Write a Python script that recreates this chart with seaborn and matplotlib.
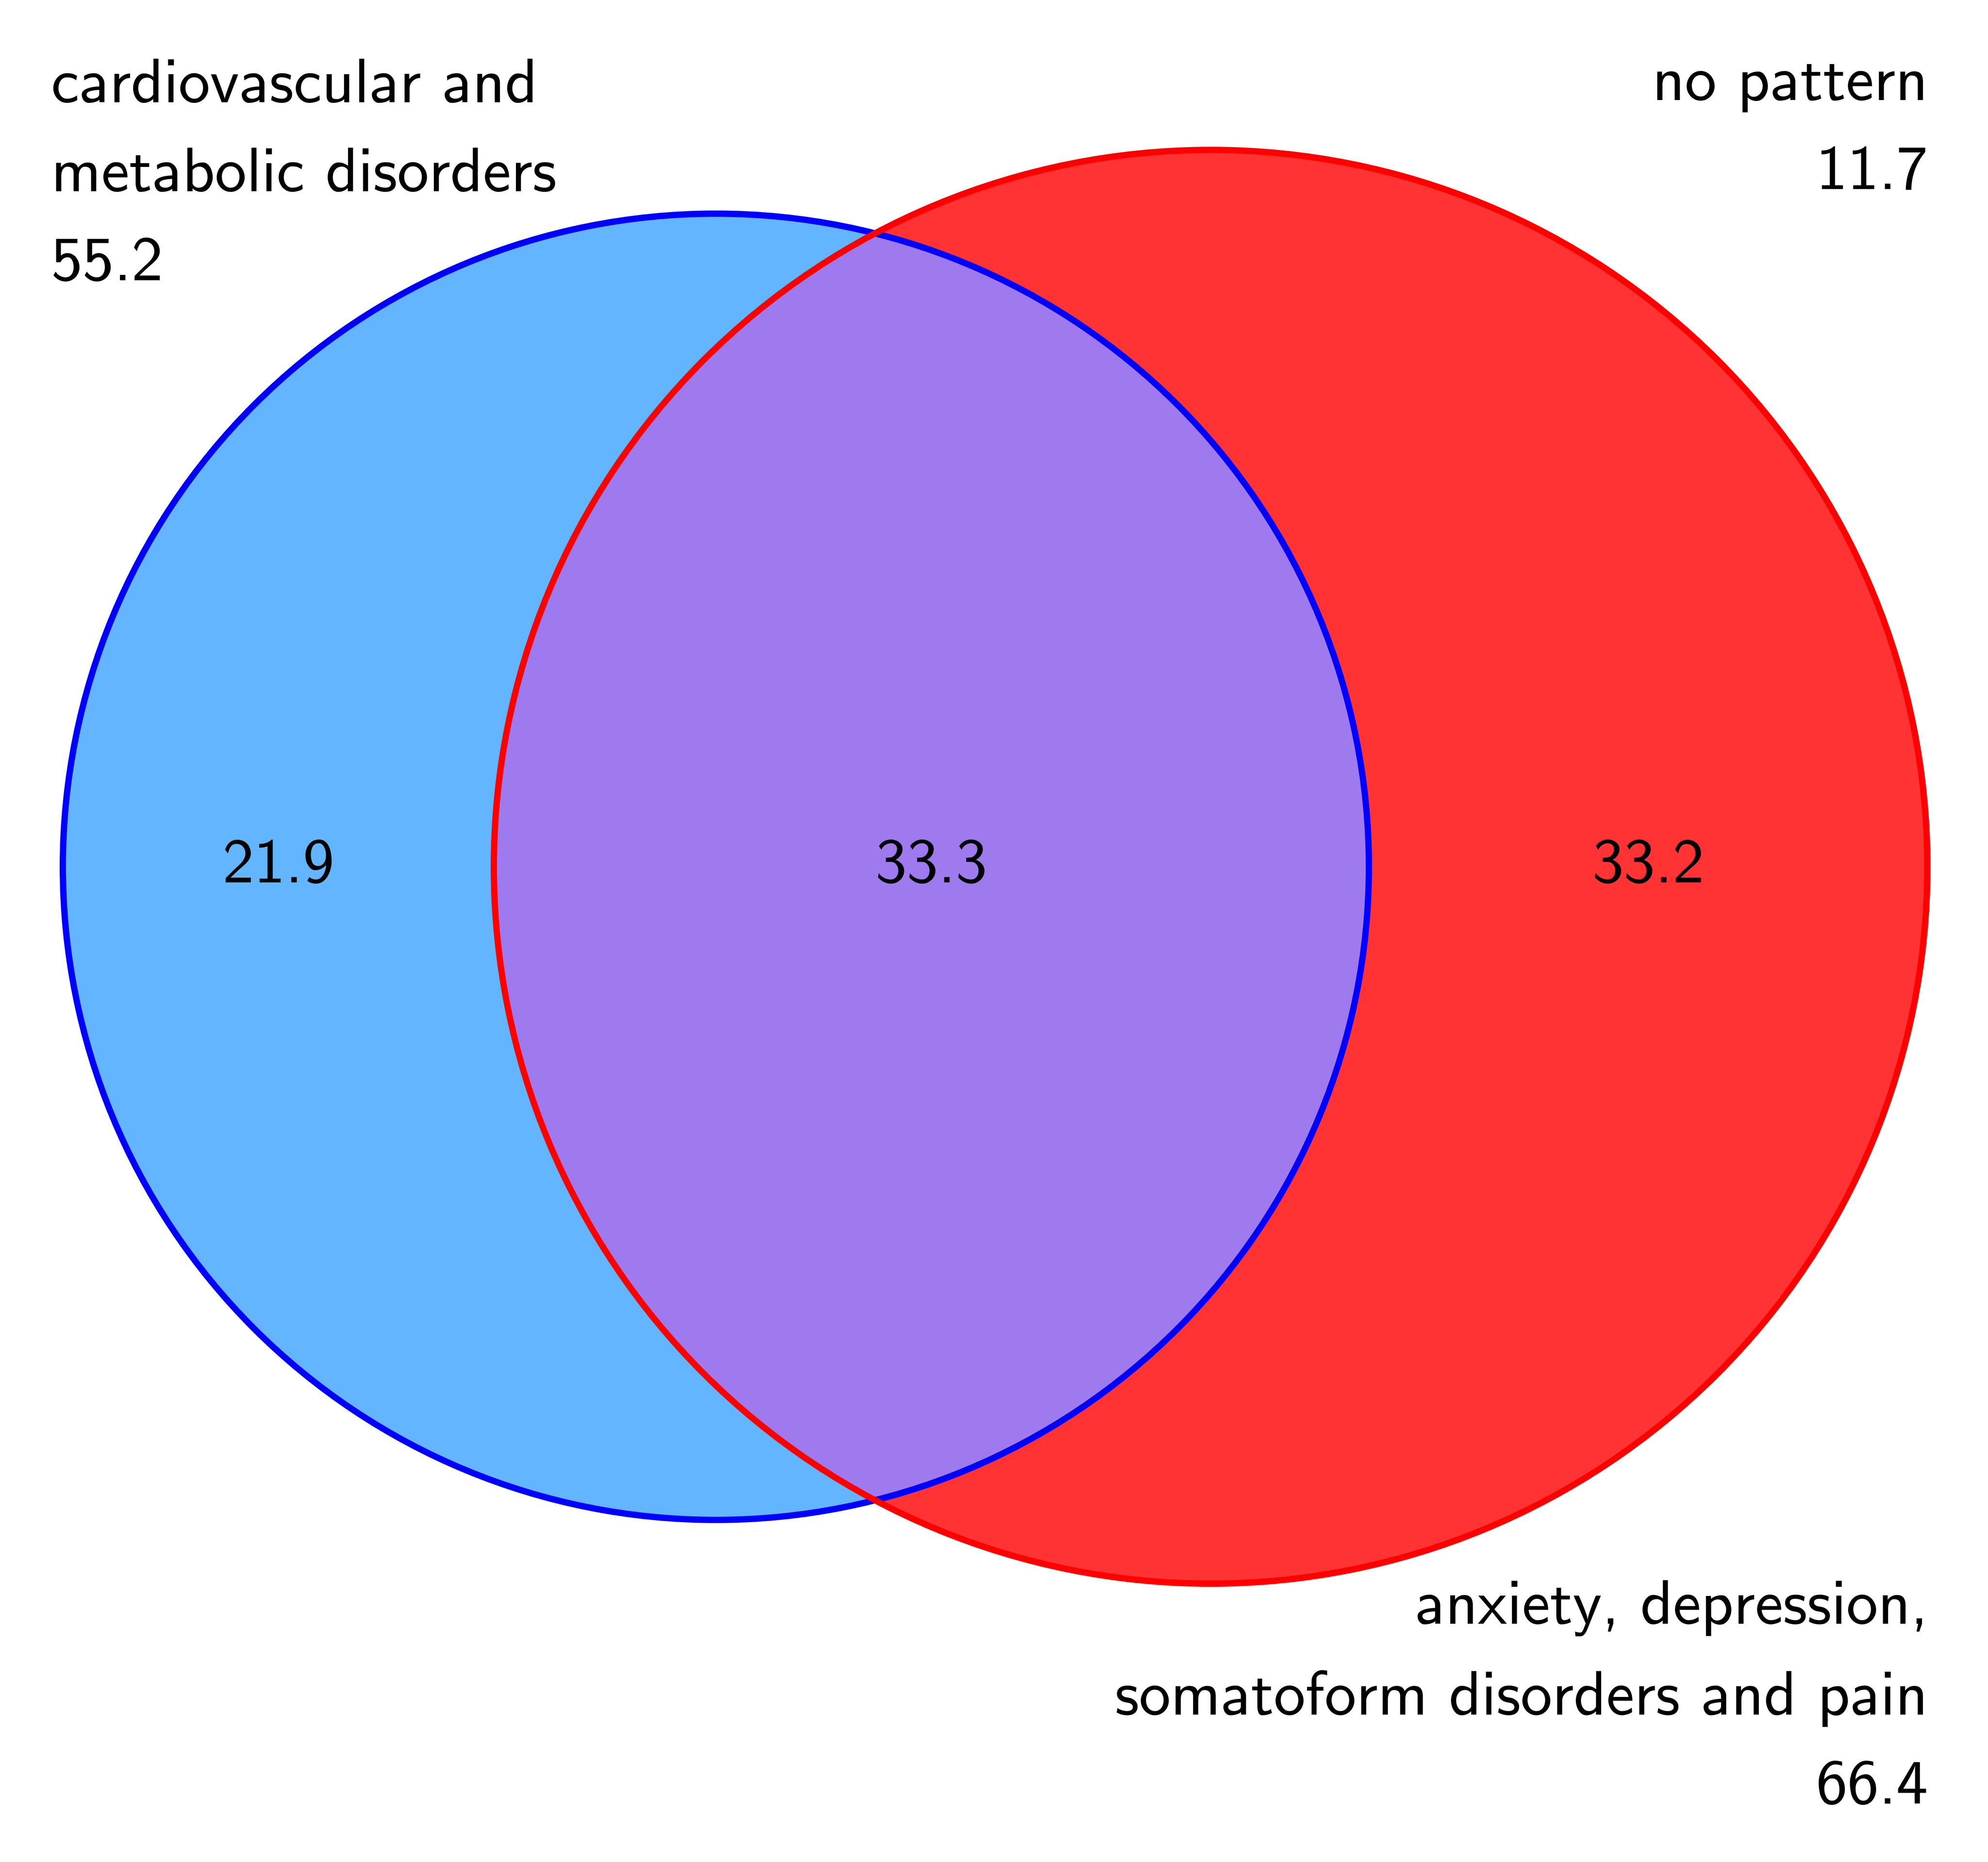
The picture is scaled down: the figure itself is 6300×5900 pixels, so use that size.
import numpy as np
import matplotlib
matplotlib.use("Agg")
import matplotlib.pyplot as plt
from matplotlib.patches import Circle
import seaborn as sns

# region values (percent)
only_cardio = 21.9
both = 33.3
only_anxiety = 33.2
no_pattern = 11.7

set_names = ["cardiovascular and\nmetabolic disorders",
             "anxiety, depression,\nsomatoform disorders and pain"]
set_totals = [55.2, 66.4]
none_name = "no pattern"

fill_colors = ["#63b5ff", "#ff3333"]
overlap_color = "#9e7aee"
edge_colors = ["#0000ff", "#ff0000"]


def lens_area(r1, r2, d):
    # area shared by two circles with radii r1, r2 and centre distance d
    a1 = np.arccos(np.clip((d**2 + r1**2 - r2**2) / (2 * d * r1), -1, 1))
    a2 = np.arccos(np.clip((d**2 + r2**2 - r1**2) / (2 * d * r2), -1, 1))
    k = (-d + r1 + r2) * (d + r1 - r2) * (d - r1 + r2) * (d + r1 + r2)
    return r1**2 * a1 + r2**2 * a2 - 0.5 * np.sqrt(max(k, 0))


def find_distance(r1, r2, overlap):
    lo, hi = abs(r1 - r2) + 1e-9, r1 + r2
    for _ in range(100):
        mid = (lo + hi) / 2
        if lens_area(r1, r2, mid) > overlap:
            lo = mid
        else:
            hi = mid
    return (lo + hi) / 2


r1 = np.sqrt((only_cardio + both) / np.pi)
r2 = np.sqrt((only_anxiety + both) / np.pi)
d = find_distance(r1, r2, both)

sns.set_theme(style="white")
plt.rcParams["font.family"] = ["cmss10", "DejaVu Sans"]
plt.rcParams["axes.unicode_minus"] = False
plt.rcParams["text.color"] = "black"

fig = plt.figure(figsize=(15.75, 14.75), dpi=400)
ax = fig.add_axes([197 / 6300, 1 - 5018 / 5900, (6110 - 197) / 6300, (5018 - 475) / 5900])

centers = [(0.0, 0.0), (d, 0.0)]
radii = [r1, r2]

fills = []
for c, r, col in zip(centers, radii, fill_colors):
    p = Circle(c, r, facecolor=col, edgecolor="none", zorder=1, clip_on=False)
    ax.add_patch(p)
    fills.append(p)

lens = Circle(centers[0], r1, facecolor=overlap_color, edgecolor="none", zorder=2)
ax.add_patch(lens)
lens.set_clip_path(fills[1])

for c, r, col in zip(centers, radii, edge_colors):
    ax.add_patch(Circle(c, r, facecolor="none", edgecolor=col, lw=3.6, zorder=3, clip_on=False))

ax.set_xlim(-r1, d + r2)
ax.set_ylim(-r2, r2)
ax.set_aspect("equal")
ax.axis("off")

fs = 36
ls = 1.76
region_x = [(-r1 + (d - r2)) / 2, ((d - r2) + r1) / 2, (r1 + d + r2) / 2]
for x, v in zip(region_x, [only_cardio, both, only_anxiety]):
    ax.text(x, 0, f"{v:.1f}", ha="center", va="center", fontsize=fs, zorder=4)

# va="baseline" pins the last line of each block
fig.text(162 / 6300, 1 - 888 / 5900, f"{set_names[0]}\n{set_totals[0]:.1f}",
         ha="left", va="baseline", fontsize=fs, linespacing=ls, multialignment="left")
fig.text(6110 / 6300, 1 - 599 / 5900, f"{none_name}\n{no_pattern:.1f}",
         ha="right", va="baseline", fontsize=fs, linespacing=ls, multialignment="right")
fig.text(6110 / 6300, 1 - 5715 / 5900, f"{set_names[1]}\n{set_totals[1]:.1f}",
         ha="right", va="baseline", fontsize=fs, linespacing=ls, multialignment="right")

fig.savefig("out.png", dpi=400, facecolor="white")
